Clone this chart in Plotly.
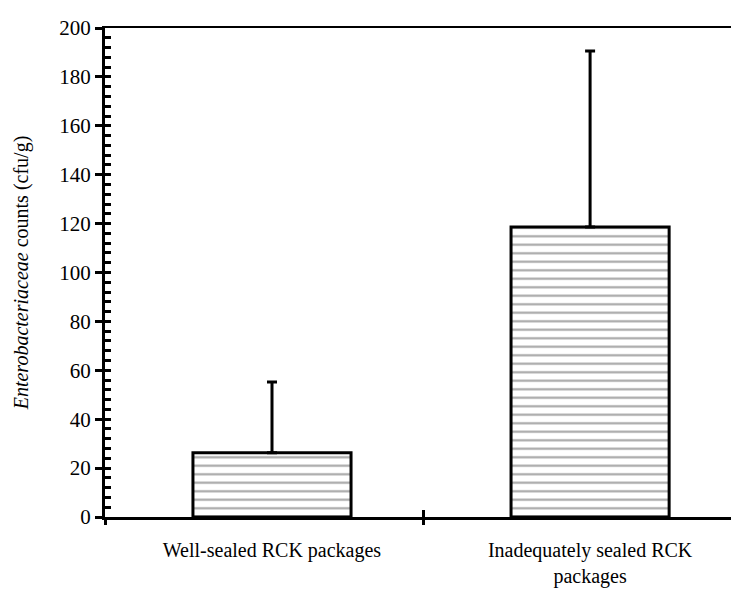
import plotly.graph_objects as go

categories = ["Well-sealed RCK packages", "Inadequately sealed RCK<br>packages"]
means = [26.3, 118.6]
errors_plus = [28.9, 72.0]
y_ticks = [0, 20, 40, 60, 80, 100, 120, 140, 160, 180, 200]

FONT = "Liberation Serif, Times New Roman, serif"

fig = go.Figure()
fig.add_trace(go.Bar(
    x=categories, y=means, width=0.497,
    marker=dict(color="white", line=dict(color="black", width=3),
                pattern=dict(shape="-", fgcolor="#4d4d4d", bgcolor="white",
                             size=8.5, solidity=0.25)),
    error_y=dict(type="data", symmetric=False, array=errors_plus,
                 arrayminus=[0, 0], color="black", thickness=3, width=5),
    showlegend=False, hoverinfo="skip",
))
# helper traces for overlay axes (tick marks / frame only)
for xa in ["x2", "x3", "x4"]:
    fig.add_trace(go.Scatter(x=[None], y=[None], xaxis=xa, yaxis="y2",
                             showlegend=False, hoverinfo="skip"))

xr = [-0.525, 1.443]
sep_tick = 0.475
common_overlay = dict(overlaying="x", anchor="y", type="linear", range=xr,
                      showgrid=False, zeroline=False, automargin=False,
                      showticklabels=False)
fig.update_layout(
    width=731, height=592,
    margin=dict(l=105, r=0, t=28, b=75, autoexpand=False),
    paper_bgcolor="white", plot_bgcolor="white",
    font=dict(family=FONT, size=20, color="black"),
    xaxis=dict(type="category", range=xr, automargin=False,
               ticks="outside", ticklen=13, tickcolor="rgba(0,0,0,0)",
               showline=True, linewidth=3, linecolor="black",
               showgrid=False, zeroline=False,
               tickfont=dict(family=FONT, size=20, color="black")),
    xaxis2=dict(**common_overlay, side="bottom", tickvals=[xr[0], sep_tick],
                ticks="outside", ticklen=7, tickwidth=3, tickcolor="black",
                showline=False),
    xaxis3=dict(**common_overlay, side="bottom", tickvals=[sep_tick],
                ticks="inside", ticklen=7, tickwidth=3, tickcolor="black",
                showline=False),
    xaxis4=dict(**common_overlay, side="top", ticks="",
                showline=True, linewidth=2, linecolor="black"),
    yaxis=dict(range=[0, 200], tickvals=y_ticks, ticks="outside", ticklen=7,
               tickwidth=3, tickcolor="black", automargin=False,
               showline=True, linewidth=3, linecolor="black",
               showgrid=False, zeroline=False,
               tickfont=dict(family=FONT, size=21, color="black"),
               title=dict(text="<i>Enterobacteriaceae</i> counts (cfu/g)",
                          font=dict(family=FONT, size=20, color="black"),
                          standoff=26)),
    yaxis2=dict(overlaying="y", anchor="x", side="left", range=[0, 200],
                dtick=4, tick0=0, ticks="inside", ticklen=6, tickwidth=2.5,
                tickcolor="black", showticklabels=False, showline=False,
                showgrid=False, zeroline=False, automargin=False),
)

fig.write_html("out.html", config={"displayModeBar": False},
               post_script="document.body.style.margin='0';"
                           "document.body.style.overflow='hidden';")
